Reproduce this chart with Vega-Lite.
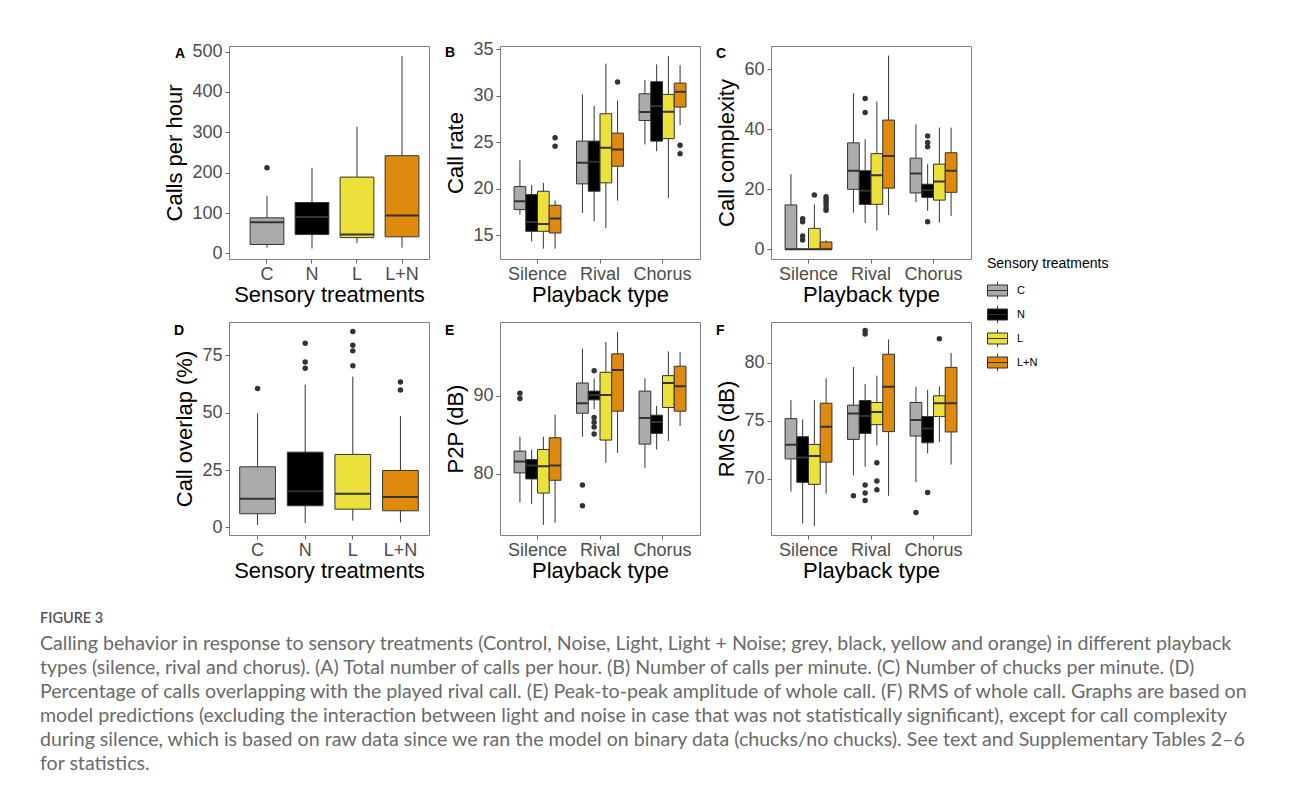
{
  "$schema": "https://vega.github.io/schema/vega-lite/v6.json",
  "background": "white",
  "padding": {"left": 40, "top": 39, "right": 5, "bottom": 5},
  "datasets": {
    "boxes": [
      {"panel": "A", "playback": "All", "treatment": "C", "lower": 14, "q1": 22, "median": 77, "q3": 88, "upper": 142},
      {"panel": "A", "playback": "All", "treatment": "N", "lower": 12, "q1": 47, "median": 90, "q3": 126, "upper": 212},
      {"panel": "A", "playback": "All", "treatment": "L", "lower": 25, "q1": 39, "median": 47, "q3": 189, "upper": 314},
      {"panel": "A", "playback": "All", "treatment": "L+N", "lower": 14, "q1": 41, "median": 94, "q3": 242, "upper": 489},

      {"panel": "B", "playback": "Silence", "treatment": "C", "lower": 17.23, "q1": 17.76, "median": 18.66, "q3": 20.24, "upper": 23.08},
      {"panel": "B", "playback": "Silence", "treatment": "N", "lower": 14.35, "q1": 15.43, "median": 16.44, "q3": 19.38, "upper": 20.39},
      {"panel": "B", "playback": "Silence", "treatment": "L", "lower": 13.56, "q1": 15.43, "median": 16.22, "q3": 19.74, "upper": 20.64},
      {"panel": "B", "playback": "Silence", "treatment": "L+N", "lower": 13.56, "q1": 15.25, "median": 16.8, "q3": 18.23, "upper": 18.73},
      {"panel": "B", "playback": "Rival", "treatment": "C", "lower": 17.41, "q1": 20.53, "median": 22.79, "q3": 25.13, "upper": 30.15},
      {"panel": "B", "playback": "Rival", "treatment": "N", "lower": 16.51, "q1": 19.74, "median": 22.9, "q3": 25.13, "upper": 28.9},
      {"panel": "B", "playback": "Rival", "treatment": "L", "lower": 15.79, "q1": 20.64, "median": 24.41, "q3": 28.07, "upper": 33.46},
      {"panel": "B", "playback": "Rival", "treatment": "L+N", "lower": 18.73, "q1": 22.43, "median": 24.23, "q3": 25.99, "upper": 29.5},
      {"panel": "B", "playback": "Chorus", "treatment": "C", "lower": 24.77, "q1": 27.35, "median": 28.25, "q3": 30.22, "upper": 31.7},
      {"panel": "B", "playback": "Chorus", "treatment": "N", "lower": 24.05, "q1": 25.13, "median": 28.9, "q3": 31.52, "upper": 33.38},
      {"panel": "B", "playback": "Chorus", "treatment": "L", "lower": 19.02, "q1": 25.4, "median": 28.29, "q3": 30.15, "upper": 34.28},
      {"panel": "B", "playback": "Chorus", "treatment": "L+N", "lower": 26.85, "q1": 28.79, "median": 30.44, "q3": 31.37, "upper": 33.28},

      {"panel": "C", "playback": "Silence", "treatment": "C", "lower": 0, "q1": 0, "median": 0, "q3": 14.8, "upper": 25.05},
      {"panel": "C", "playback": "Silence", "treatment": "N", "lower": 0, "q1": 0, "median": 0, "q3": 0, "upper": 0},
      {"panel": "C", "playback": "Silence", "treatment": "L", "lower": 0, "q1": 0, "median": 0, "q3": 7.0, "upper": 15.0},
      {"panel": "C", "playback": "Silence", "treatment": "L+N", "lower": 0, "q1": 0, "median": 0, "q3": 2.45, "upper": 3.0},
      {"panel": "C", "playback": "Rival", "treatment": "C", "lower": 12.2, "q1": 20.0, "median": 26.2, "q3": 35.5, "upper": 52.0},
      {"panel": "C", "playback": "Rival", "treatment": "N", "lower": 8.8, "q1": 15.0, "median": 19.5, "q3": 26.2, "upper": 36.7},
      {"panel": "C", "playback": "Rival", "treatment": "L", "lower": 6.3, "q1": 15.0, "median": 24.7, "q3": 31.9, "upper": 49.2},
      {"panel": "C", "playback": "Rival", "treatment": "L+N", "lower": 11.4, "q1": 20.4, "median": 31.1, "q3": 43.1, "upper": 64.6},
      {"panel": "C", "playback": "Chorus", "treatment": "C", "lower": 15.7, "q1": 18.8, "median": 25.3, "q3": 30.4, "upper": 41.7},
      {"panel": "C", "playback": "Chorus", "treatment": "N", "lower": 12.8, "q1": 17.3, "median": 19.7, "q3": 21.7, "upper": 28.4},
      {"panel": "C", "playback": "Chorus", "treatment": "L", "lower": 8.9, "q1": 16.4, "median": 22.6, "q3": 28.4, "upper": 40.6},
      {"panel": "C", "playback": "Chorus", "treatment": "L+N", "lower": 11.1, "q1": 19.0, "median": 26.2, "q3": 32.2, "upper": 40.6},

      {"panel": "D", "playback": "All", "treatment": "C", "lower": 1.0, "q1": 5.9, "median": 12.5, "q3": 26.4, "upper": 49.7},
      {"panel": "D", "playback": "All", "treatment": "N", "lower": 1.8, "q1": 9.4, "median": 15.7, "q3": 32.8, "upper": 62.3},
      {"panel": "D", "playback": "All", "treatment": "L", "lower": 2.9, "q1": 7.9, "median": 14.6, "q3": 31.8, "upper": 65.8},
      {"panel": "D", "playback": "All", "treatment": "L+N", "lower": 2.1, "q1": 7.2, "median": 13.2, "q3": 24.8, "upper": 48.5},

      {"panel": "E", "playback": "Silence", "treatment": "C", "lower": 76.29, "q1": 80.09, "median": 81.55, "q3": 82.89, "upper": 84.74},
      {"panel": "E", "playback": "Silence", "treatment": "N", "lower": 76.08, "q1": 79.31, "median": 81.03, "q3": 81.81, "upper": 83.1},
      {"panel": "E", "playback": "Silence", "treatment": "L", "lower": 73.41, "q1": 77.5, "median": 80.95, "q3": 83.1, "upper": 84.74},
      {"panel": "E", "playback": "Silence", "treatment": "L+N", "lower": 73.71, "q1": 79.14, "median": 81.03, "q3": 84.61, "upper": 87.59},
      {"panel": "E", "playback": "Rival", "treatment": "C", "lower": 84.74, "q1": 87.76, "median": 89.05, "q3": 91.64, "upper": 96.03},
      {"panel": "E", "playback": "Rival", "treatment": "N", "lower": 88.28, "q1": 89.48, "median": 90.09, "q3": 90.6, "upper": 92.24},
      {"panel": "E", "playback": "Rival", "treatment": "L", "lower": 81.38, "q1": 84.31, "median": 90.09, "q3": 93.02, "upper": 96.9},
      {"panel": "E", "playback": "Rival", "treatment": "L+N", "lower": 82.67, "q1": 88.02, "median": 93.32, "q3": 95.39, "upper": 98.19},
      {"panel": "E", "playback": "Chorus", "treatment": "C", "lower": 80.73, "q1": 83.79, "median": 87.16, "q3": 90.6, "upper": 92.24},
      {"panel": "E", "playback": "Chorus", "treatment": "N", "lower": 83.1, "q1": 85.17, "median": 86.64, "q3": 87.5, "upper": 88.71},
      {"panel": "E", "playback": "Chorus", "treatment": "L", "lower": 84.18, "q1": 88.49, "median": 91.64, "q3": 92.59, "upper": 95.69},
      {"panel": "E", "playback": "Chorus", "treatment": "L+N", "lower": 86.12, "q1": 88.02, "median": 91.21, "q3": 93.79, "upper": 95.6},

      {"panel": "F", "playback": "Silence", "treatment": "C", "lower": 68.9, "q1": 71.73, "median": 72.95, "q3": 75.2, "upper": 76.79},
      {"panel": "F", "playback": "Silence", "treatment": "N", "lower": 66.18, "q1": 69.71, "median": 71.85, "q3": 73.64, "upper": 75.14},
      {"panel": "F", "playback": "Silence", "treatment": "L", "lower": 65.95, "q1": 69.54, "median": 71.97, "q3": 72.98, "upper": 76.79},
      {"panel": "F", "playback": "Silence", "treatment": "L+N", "lower": 68.73, "q1": 71.45, "median": 74.51, "q3": 76.53, "upper": 78.67},
      {"panel": "F", "playback": "Rival", "treatment": "C", "lower": 70.32, "q1": 73.41, "median": 75.64, "q3": 76.36, "upper": 79.65},
      {"panel": "F", "playback": "Rival", "treatment": "N", "lower": 71.04, "q1": 73.93, "median": 75.43, "q3": 76.76, "upper": 78.18},
      {"panel": "F", "playback": "Rival", "treatment": "L", "lower": 72.89, "q1": 74.68, "median": 75.78, "q3": 76.59, "upper": 78.9},
      {"panel": "F", "playback": "Rival", "treatment": "L+N", "lower": 68.55, "q1": 74.08, "median": 77.95, "q3": 80.75, "upper": 82.02},
      {"panel": "F", "playback": "Chorus", "treatment": "C", "lower": 69.71, "q1": 73.7, "median": 75.09, "q3": 76.59, "upper": 77.95},
      {"panel": "F", "playback": "Chorus", "treatment": "N", "lower": 72.2, "q1": 73.12, "median": 74.34, "q3": 75.38, "upper": 77.69},
      {"panel": "F", "playback": "Chorus", "treatment": "L", "lower": 73.18, "q1": 75.38, "median": 76.53, "q3": 77.17, "upper": 77.98},
      {"panel": "F", "playback": "Chorus", "treatment": "L+N", "lower": 71.24, "q1": 74.05, "median": 76.53, "q3": 79.62, "upper": 80.87}
    ],
    "outliers": [
      {"panel": "A", "playback": "All", "treatment": "C", "value": 212},
      {"panel": "B", "playback": "Silence", "treatment": "L+N", "value": 25.48},
      {"panel": "B", "playback": "Silence", "treatment": "L+N", "value": 24.59},
      {"panel": "B", "playback": "Rival", "treatment": "L+N", "value": 31.48},
      {"panel": "B", "playback": "Chorus", "treatment": "L+N", "value": 24.69},
      {"panel": "B", "playback": "Chorus", "treatment": "L+N", "value": 23.76},
      {"panel": "C", "playback": "Silence", "treatment": "N", "value": 10.2},
      {"panel": "C", "playback": "Silence", "treatment": "N", "value": 9.2},
      {"panel": "C", "playback": "Silence", "treatment": "N", "value": 4.45},
      {"panel": "C", "playback": "Silence", "treatment": "N", "value": 3.1},
      {"panel": "C", "playback": "Silence", "treatment": "L", "value": 18.1},
      {"panel": "C", "playback": "Silence", "treatment": "L+N", "value": 17.5},
      {"panel": "C", "playback": "Silence", "treatment": "L+N", "value": 16.7},
      {"panel": "C", "playback": "Silence", "treatment": "L+N", "value": 15.9},
      {"panel": "C", "playback": "Silence", "treatment": "L+N", "value": 15.0},
      {"panel": "C", "playback": "Silence", "treatment": "L+N", "value": 13.9},
      {"panel": "C", "playback": "Silence", "treatment": "L+N", "value": 13.0},
      {"panel": "C", "playback": "Rival", "treatment": "N", "value": 50.3},
      {"panel": "C", "playback": "Rival", "treatment": "N", "value": 45.6},
      {"panel": "C", "playback": "Chorus", "treatment": "N", "value": 37.8},
      {"panel": "C", "playback": "Chorus", "treatment": "N", "value": 35.6},
      {"panel": "C", "playback": "Chorus", "treatment": "N", "value": 34.2},
      {"panel": "C", "playback": "Chorus", "treatment": "N", "value": 9.2},
      {"panel": "D", "playback": "All", "treatment": "C", "value": 60.6},
      {"panel": "D", "playback": "All", "treatment": "N", "value": 80.3},
      {"panel": "D", "playback": "All", "treatment": "N", "value": 72.1},
      {"panel": "D", "playback": "All", "treatment": "N", "value": 69.4},
      {"panel": "D", "playback": "All", "treatment": "L", "value": 85.5},
      {"panel": "D", "playback": "All", "treatment": "L", "value": 79.5},
      {"panel": "D", "playback": "All", "treatment": "L", "value": 77.0},
      {"panel": "D", "playback": "All", "treatment": "L", "value": 70.5},
      {"panel": "D", "playback": "All", "treatment": "L+N", "value": 63.4},
      {"panel": "D", "playback": "All", "treatment": "L+N", "value": 59.9},
      {"panel": "E", "playback": "Silence", "treatment": "C", "value": 90.34},
      {"panel": "E", "playback": "Silence", "treatment": "C", "value": 89.66},
      {"panel": "E", "playback": "Rival", "treatment": "C", "value": 78.53},
      {"panel": "E", "playback": "Rival", "treatment": "C", "value": 75.86},
      {"panel": "E", "playback": "Rival", "treatment": "N", "value": 93.23},
      {"panel": "E", "playback": "Rival", "treatment": "N", "value": 87.2},
      {"panel": "E", "playback": "Rival", "treatment": "N", "value": 86.6},
      {"panel": "E", "playback": "Rival", "treatment": "N", "value": 86.0},
      {"panel": "E", "playback": "Rival", "treatment": "N", "value": 85.1},
      {"panel": "F", "playback": "Rival", "treatment": "C", "value": 68.55},
      {"panel": "F", "playback": "Rival", "treatment": "N", "value": 82.8},
      {"panel": "F", "playback": "Rival", "treatment": "N", "value": 82.5},
      {"panel": "F", "playback": "Rival", "treatment": "N", "value": 69.48},
      {"panel": "F", "playback": "Rival", "treatment": "N", "value": 68.79},
      {"panel": "F", "playback": "Rival", "treatment": "N", "value": 68.15},
      {"panel": "F", "playback": "Rival", "treatment": "L", "value": 71.39},
      {"panel": "F", "playback": "Rival", "treatment": "L", "value": 69.83},
      {"panel": "F", "playback": "Rival", "treatment": "L", "value": 69.08},
      {"panel": "F", "playback": "Chorus", "treatment": "C", "value": 67.11},
      {"panel": "F", "playback": "Chorus", "treatment": "N", "value": 68.84},
      {"panel": "F", "playback": "Chorus", "treatment": "L", "value": 82.08}
    ]
  },
  "title": {
    "text": "FIGURE 3",
    "subtitle": [
      "Calling behavior in response to sensory treatments (Control, Noise, Light, Light + Noise; grey, black, yellow and orange) in different playback",
      "types (silence, rival and chorus). (A) Total number of calls per hour. (B) Number of calls per minute. (C) Number of chucks per minute. (D)",
      "Percentage of calls overlapping with the played rival call. (E) Peak-to-peak amplitude of whole call. (F) RMS of whole call. Graphs are based on",
      "model predictions (excluding the interaction between light and noise in case that was not statistically significant), except for call complexity",
      "during silence, which is based on raw data since we ran the model on binary data (chucks/no chucks). See text and Supplementary Tables 2–6",
      "for statistics."
    ],
    "orient": "bottom",
    "anchor": "start",
    "frame": "group",
    "dx": -189,
    "dy": 0,
    "offset": 30,
    "baseline": "top",
    "font": "Lato",
    "fontSize": 14.5,
    "fontWeight": 600,
    "color": "#555555",
    "subtitleFont": "Lato",
    "subtitleFontSize": 19.6,
    "subtitleFontWeight": "normal",
    "subtitleColor": "#6a6a6a",
    "subtitleLineHeight": 24,
    "subtitlePadding": 9
  },
  "spacing": 15,
  "resolve": {"scale": {"xOffset": "independent"}},
  "vconcat": [
    {
      "spacing": 14,
      "resolve": {"scale": {"xOffset": "independent"}},
      "hconcat": [
        {
          "width": 200, "height": 213,
          "title": {"text": "A", "dy": 22, "dx": 11},
          "encoding": {
            "x": {"field": "treatment", "type": "nominal", "sort": ["C", "N", "L", "L+N"], "scale": {"paddingInner": 0.25, "paddingOuter": 0.347, "align": 0.676}, "axis": {"title": "Sensory treatments"}}
          },
          "layer": [
            {"data": {"name": "boxes"}, "transform": [{"filter": "datum.panel === 'A'"}], "mark": {"type": "rule", "color": "#333333", "strokeWidth": 1},
             "encoding": {"y": {"field": "lower", "type": "quantitative", "scale": {"domain": [-14, 514], "nice": false, "zero": false}, "axis": {"title": "Calls per hour", "values": [0, 100, 200, 300, 400, 500]}}, "y2": {"field": "upper"}}},
            {"data": {"name": "boxes"}, "transform": [{"filter": "datum.panel === 'A'"}], "mark": {"type": "bar", "stroke": "#333333", "strokeWidth": 1},
             "encoding": {"y": {"field": "q1", "type": "quantitative"}, "y2": {"field": "q3"},
               "fill": {"field": "treatment", "type": "nominal", "title": "Sensory treatments", "scale": {"domain": ["C", "N", "L", "L+N"], "range": ["#ABABAB", "#000000", "#ECE03B", "#DF8A0C"]}}}},
            {"data": {"name": "boxes"}, "transform": [{"filter": "datum.panel === 'A'"}], "mark": {"type": "bar", "fill": "transparent", "stroke": "#333333", "strokeWidth": 2},
             "encoding": {"y": {"field": "median", "type": "quantitative"}, "y2": {"field": "median"}}},
            {"data": {"name": "outliers"}, "transform": [{"filter": "datum.panel === 'A'"}], "mark": {"type": "point", "filled": true, "color": "#333333", "size": 30, "opacity": 1},
             "encoding": {"y": {"field": "value", "type": "quantitative"}}}
          ]
        },
        {
          "width": 200, "height": 213,
          "title": {"text": "B", "dy": 24},
          "encoding": {
            "x": {"field": "playback", "type": "nominal", "sort": ["Silence", "Rival", "Chorus"], "scale": {"paddingInner": 0.25, "paddingOuter": 0.225}, "axis": {"title": "Playback type"}},
            "xOffset": {"field": "treatment", "type": "nominal", "sort": ["C", "N", "L", "L+N"], "scale": {"paddingInner": 0, "paddingOuter": 0}}
          },
          "layer": [
            {"data": {"name": "boxes"}, "transform": [{"filter": "datum.panel === 'B'"}], "mark": {"type": "rule", "color": "#333333", "strokeWidth": 1},
             "encoding": {"y": {"field": "lower", "type": "quantitative", "scale": {"domain": [12.45, 35.36], "nice": false, "zero": false}, "axis": {"title": "Call rate", "values": [15, 20, 25, 30, 35]}}, "y2": {"field": "upper"}}},
            {"data": {"name": "boxes"}, "transform": [{"filter": "datum.panel === 'B'"}], "mark": {"type": "bar", "stroke": "#333333", "strokeWidth": 1},
             "encoding": {"y": {"field": "q1", "type": "quantitative"}, "y2": {"field": "q3"},
               "fill": {"field": "treatment", "type": "nominal", "title": "Sensory treatments", "scale": {"domain": ["C", "N", "L", "L+N"], "range": ["#ABABAB", "#000000", "#ECE03B", "#DF8A0C"]}}}},
            {"data": {"name": "boxes"}, "transform": [{"filter": "datum.panel === 'B'"}], "mark": {"type": "bar", "fill": "transparent", "stroke": "#333333", "strokeWidth": 2},
             "encoding": {"y": {"field": "median", "type": "quantitative"}, "y2": {"field": "median"}}},
            {"data": {"name": "outliers"}, "transform": [{"filter": "datum.panel === 'B'"}], "mark": {"type": "point", "filled": true, "color": "#333333", "size": 30, "opacity": 1},
             "encoding": {"y": {"field": "value", "type": "quantitative"}}}
          ]
        },
        {
          "width": 200, "height": 213,
          "title": {"text": "C", "dy": 19},
          "encoding": {
            "x": {"field": "playback", "type": "nominal", "sort": ["Silence", "Rival", "Chorus"], "scale": {"paddingInner": 0.25, "paddingOuter": 0.225}, "axis": {"title": "Playback type"}},
            "xOffset": {"field": "treatment", "type": "nominal", "sort": ["C", "N", "L", "L+N"], "scale": {"paddingInner": 0, "paddingOuter": 0}}
          },
          "layer": [
            {"data": {"name": "boxes"}, "transform": [{"filter": "datum.panel === 'C'"}], "mark": {"type": "rule", "color": "#333333", "strokeWidth": 1},
             "encoding": {"y": {"field": "lower", "type": "quantitative", "scale": {"domain": [-3.23, 67.8], "nice": false, "zero": false}, "axis": {"title": "Call complexity", "values": [0, 20, 40, 60]}}, "y2": {"field": "upper"}}},
            {"data": {"name": "boxes"}, "transform": [{"filter": "datum.panel === 'C'"}], "mark": {"type": "bar", "stroke": "#333333", "strokeWidth": 1},
             "encoding": {"y": {"field": "q1", "type": "quantitative"}, "y2": {"field": "q3"},
               "fill": {"field": "treatment", "type": "nominal", "title": "Sensory treatments", "scale": {"domain": ["C", "N", "L", "L+N"], "range": ["#ABABAB", "#000000", "#ECE03B", "#DF8A0C"]}}}},
            {"data": {"name": "boxes"}, "transform": [{"filter": "datum.panel === 'C'"}], "mark": {"type": "bar", "fill": "transparent", "stroke": "#333333", "strokeWidth": 2},
             "encoding": {"y": {"field": "median", "type": "quantitative"}, "y2": {"field": "median"}}},
            {"data": {"name": "outliers"}, "transform": [{"filter": "datum.panel === 'C'"}], "mark": {"type": "point", "filled": true, "color": "#333333", "size": 30, "opacity": 1},
             "encoding": {"y": {"field": "value", "type": "quantitative"}}}
          ]
        }
      ]
    },
    {
      "spacing": 14,
      "resolve": {"scale": {"xOffset": "independent"}},
      "hconcat": [
        {
          "width": 200, "height": 213,
          "title": {"text": "D", "dy": 20},
          "encoding": {
            "x": {"field": "treatment", "type": "nominal", "sort": ["C", "N", "L", "L+N"], "scale": {"paddingInner": 0.25, "paddingOuter": 0.225}, "axis": {"title": "Sensory treatments"}}
          },
          "layer": [
            {"data": {"name": "boxes"}, "transform": [{"filter": "datum.panel === 'D'"}], "mark": {"type": "rule", "color": "#333333", "strokeWidth": 1},
             "encoding": {"y": {"field": "lower", "type": "quantitative", "scale": {"domain": [-3.37, 89.6], "nice": false, "zero": false}, "axis": {"title": "Call overlap (%)", "values": [0, 25, 50, 75]}}, "y2": {"field": "upper"}}},
            {"data": {"name": "boxes"}, "transform": [{"filter": "datum.panel === 'D'"}], "mark": {"type": "bar", "stroke": "#333333", "strokeWidth": 1},
             "encoding": {"y": {"field": "q1", "type": "quantitative"}, "y2": {"field": "q3"},
               "fill": {"field": "treatment", "type": "nominal", "title": "Sensory treatments", "scale": {"domain": ["C", "N", "L", "L+N"], "range": ["#ABABAB", "#000000", "#ECE03B", "#DF8A0C"]}}}},
            {"data": {"name": "boxes"}, "transform": [{"filter": "datum.panel === 'D'"}], "mark": {"type": "bar", "fill": "transparent", "stroke": "#333333", "strokeWidth": 2},
             "encoding": {"y": {"field": "median", "type": "quantitative"}, "y2": {"field": "median"}}},
            {"data": {"name": "outliers"}, "transform": [{"filter": "datum.panel === 'D'"}], "mark": {"type": "point", "filled": true, "color": "#333333", "size": 30, "opacity": 1},
             "encoding": {"y": {"field": "value", "type": "quantitative"}}}
          ]
        },
        {
          "width": 200, "height": 213,
          "title": {"text": "E", "dy": 20},
          "encoding": {
            "x": {"field": "playback", "type": "nominal", "sort": ["Silence", "Rival", "Chorus"], "scale": {"paddingInner": 0.25, "paddingOuter": 0.225}, "axis": {"title": "Playback type"}},
            "xOffset": {"field": "treatment", "type": "nominal", "sort": ["C", "N", "L", "L+N"], "scale": {"paddingInner": 0, "paddingOuter": 0}}
          },
          "layer": [
            {"data": {"name": "boxes"}, "transform": [{"filter": "datum.panel === 'E'"}], "mark": {"type": "rule", "color": "#333333", "strokeWidth": 1},
             "encoding": {"y": {"field": "lower", "type": "quantitative", "scale": {"domain": [72.11, 99.48], "nice": false, "zero": false}, "axis": {"title": "P2P (dB)", "values": [80, 90]}}, "y2": {"field": "upper"}}},
            {"data": {"name": "boxes"}, "transform": [{"filter": "datum.panel === 'E'"}], "mark": {"type": "bar", "stroke": "#333333", "strokeWidth": 1},
             "encoding": {"y": {"field": "q1", "type": "quantitative"}, "y2": {"field": "q3"},
               "fill": {"field": "treatment", "type": "nominal", "title": "Sensory treatments", "scale": {"domain": ["C", "N", "L", "L+N"], "range": ["#ABABAB", "#000000", "#ECE03B", "#DF8A0C"]}}}},
            {"data": {"name": "boxes"}, "transform": [{"filter": "datum.panel === 'E'"}], "mark": {"type": "bar", "fill": "transparent", "stroke": "#333333", "strokeWidth": 2},
             "encoding": {"y": {"field": "median", "type": "quantitative"}, "y2": {"field": "median"}}},
            {"data": {"name": "outliers"}, "transform": [{"filter": "datum.panel === 'E'"}], "mark": {"type": "point", "filled": true, "color": "#333333", "size": 30, "opacity": 1},
             "encoding": {"y": {"field": "value", "type": "quantitative"}}}
          ]
        },
        {
          "width": 200, "height": 213,
          "title": {"text": "F", "dy": 20},
          "encoding": {
            "x": {"field": "playback", "type": "nominal", "sort": ["Silence", "Rival", "Chorus"], "scale": {"paddingInner": 0.25, "paddingOuter": 0.225}, "axis": {"title": "Playback type"}},
            "xOffset": {"field": "treatment", "type": "nominal", "sort": ["C", "N", "L", "L+N"], "scale": {"paddingInner": 0, "paddingOuter": 0}}
          },
          "layer": [
            {"data": {"name": "boxes"}, "transform": [{"filter": "datum.panel === 'F'"}], "mark": {"type": "rule", "color": "#333333", "strokeWidth": 1},
             "encoding": {"y": {"field": "lower", "type": "quantitative", "scale": {"domain": [65.17, 83.53], "nice": false, "zero": false}, "axis": {"title": "RMS (dB)", "values": [70, 75, 80]}}, "y2": {"field": "upper"}}},
            {"data": {"name": "boxes"}, "transform": [{"filter": "datum.panel === 'F'"}], "mark": {"type": "bar", "stroke": "#333333", "strokeWidth": 1},
             "encoding": {"y": {"field": "q1", "type": "quantitative"}, "y2": {"field": "q3"},
               "fill": {"field": "treatment", "type": "nominal", "title": "Sensory treatments", "scale": {"domain": ["C", "N", "L", "L+N"], "range": ["#ABABAB", "#000000", "#ECE03B", "#DF8A0C"]}}}},
            {"data": {"name": "boxes"}, "transform": [{"filter": "datum.panel === 'F'"}], "mark": {"type": "bar", "fill": "transparent", "stroke": "#333333", "strokeWidth": 2},
             "encoding": {"y": {"field": "median", "type": "quantitative"}, "y2": {"field": "median"}}},
            {"data": {"name": "outliers"}, "transform": [{"filter": "datum.panel === 'F'"}], "mark": {"type": "point", "filled": true, "color": "#333333", "size": 30, "opacity": 1},
             "encoding": {"y": {"field": "value", "type": "quantitative"}}}
          ]
        }
      ]
    }
  ],
  "config": {
    "font": "Liberation Sans",
    "view": {"stroke": "#7f7f7f", "strokeWidth": 1},
    "title": {"anchor": "start", "frame": "bounds", "orient": "top", "offset": 0, "baseline": "top", "fontSize": 14, "fontWeight": "bold", "font": "Liberation Sans", "color": "#000000"},
    "axis": {"grid": false, "domain": false, "tickColor": "#666666", "tickSize": 4, "labelFontSize": 18, "labelColor": "#4d4d4d", "labelFont": "Liberation Sans", "titleFontSize": 22, "titleFontWeight": "normal", "titleColor": "#000000", "titleFont": "Liberation Sans"},
    "axisX": {"labelAngle": 0, "labelPadding": 2, "titlePadding": 1},
    "axisY": {"labelPadding": 3, "titlePadding": 5},
    "legend": {
      "orient": "none", "legendX": 758, "legendY": 211,
      "titleFontSize": 14, "titleFontWeight": "normal", "titleColor": "#000000", "titleFont": "Liberation Sans", "titlePadding": 9,
      "labelFontSize": 11, "labelColor": "#000000", "labelFont": "Liberation Sans", "labelOffset": 9,
      "symbolType": "M0,-0.85V-0.55M0,0.55V0.85M-1,-0.55H1V0.55H-1ZM-1,0H1",
      "symbolSize": 400, "symbolStrokeColor": "#333333", "symbolStrokeWidth": 1, "rowPadding": 3
    }
  }
}
